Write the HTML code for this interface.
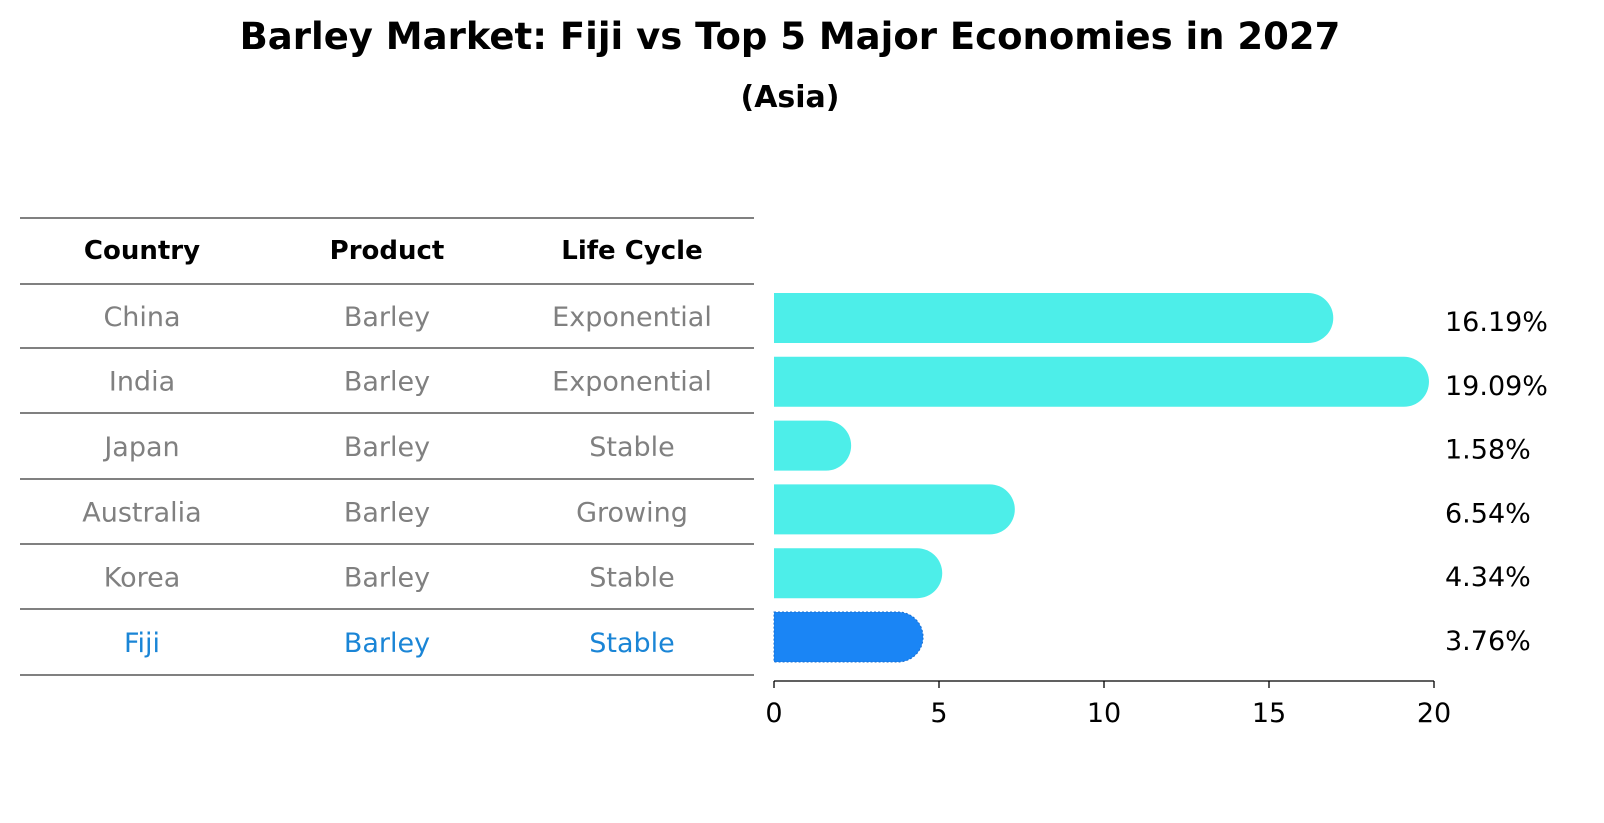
<!DOCTYPE html>
<html><head><meta charset="utf-8"><style>
html,body{margin:0;padding:0;background:#fff;overflow:hidden;font-family:"Liberation Sans","DejaVu Sans",sans-serif;}
svg{display:block;}
svg text{font-family:"DejaVu Sans","Liberation Sans",sans-serif;}
</style></head><body>
<svg id="c" width="1604" height="823" xmlns="http://www.w3.org/2000/svg">
<text x="790" y="49" text-anchor="middle" font-size="37" font-weight="bold">Barley Market: Fiji vs Top 5 Major Economies in 2027</text>
<text x="790" y="107" text-anchor="middle" font-size="30" font-weight="bold">(Asia)</text>
<g id="table"></g>
<g id="bars"></g>
</svg>
<script>
const countries=["China","India","Japan","Australia","Korea","Fiji"];
const products=["Barley","Barley","Barley","Barley","Barley","Barley"];
const lifeCycles=["Exponential","Exponential","Stable","Growing","Stable","Stable"];
const values=[16.19,19.09,1.58,6.54,4.34,3.76];
const xTicks=[0,5,10,15,20];
const NS="http://www.w3.org/2000/svg";
function mk(tag,attrs,parent,text){const e=document.createElementNS(NS,tag);for(const k in attrs)e.setAttribute(k,attrs[k]);if(text!==undefined)e.textContent=text;parent.appendChild(e);return e;}
const tbl=document.getElementById('table');
const lineYs=[218,284,348,413,479,544,609,675];
lineYs.forEach((y,i)=>{const l=mk('line',{x1:20,x2:754,y1:y,y2:y,stroke:'#000','stroke-width':1},tbl);

});
const colX=[142,387,632];
["Country","Product","Life Cycle"].forEach((h,i)=>{const t=mk('text',{x:colX[i],y:259,'text-anchor':'middle','font-size':26,'font-weight':'bold'},tbl,h);

});
countries.forEach((c,r)=>{const y=(lineYs[r+1]+lineYs[r+2])/2+10;const col=c==="Fiji"?"#1a85d6":"#808080";
[c,products[r],lifeCycles[r]].forEach((v,i)=>{const t=mk('text',{x:colX[i],y:y,'text-anchor':'middle','font-size':27,fill:col},tbl,v);

});});
const g=document.getElementById('bars');
const x0=774,x1=1434,xmax=20;
const sx=v=>x0+(v/xmax)*(x1-x0);
const yTop=318,yStep=63.8,bh=50;
const sy=i=>yTop+i*yStep;
values.forEach((v,i)=>{const cy=sy(i);const fiji=countries[i]==="Fiji";const fill=fiji?"#1a85f5":"#4deee9";
const w=sx(v)-x0;
const p=mk('path',{d:`M${x0},${cy-bh/2} H${x0+w} A${bh/2},${bh/2} 0 0 1 ${x0+w},${cy+bh/2} H${x0} Z`,fill:fill,stroke:fiji?"#1a6fd0":"none",'stroke-dasharray':fiji?"2,2":"none"},g);


const t=mk('text',{x:1445,y:cy+13,'font-size':27},g,v.toFixed(2)+'%');

});
const ax=mk('line',{x1:x0,x2:x1,y1:681,y2:681,stroke:'#000','stroke-width':1.3},g);


xTicks.forEach(tv=>{const x=sx(tv);const tk=mk('line',{x1:x,x2:x,y1:681,y2:688,stroke:'#000','stroke-width':1.3},g);


const t=mk('text',{x:x,y:722,'text-anchor':'middle','font-size':27},g,String(tv));

});
</script>
</body></html>
